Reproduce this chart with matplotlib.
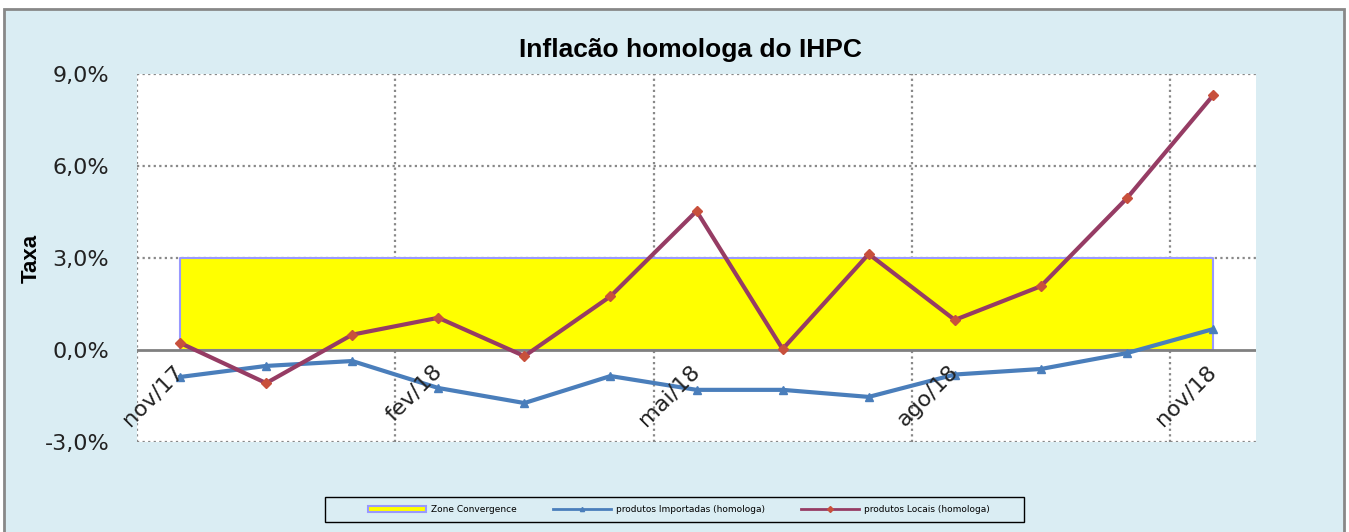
import matplotlib
matplotlib.use('Agg')
import matplotlib.pyplot as plt
from matplotlib.patches import Rectangle, Patch
from matplotlib.lines import Line2D
from matplotlib.ticker import FuncFormatter

months = ['nov/17', 'dez/17', 'jan/18', 'fev/18', 'mar/18', 'abr/18', 'mai/18',
          'jun/18', 'jul/18', 'ago/18', 'set/18', 'out/18', 'nov/18']
zone_conv = [3.0] * 13
importados = [-0.88, -0.52, -0.36, -1.24, -1.73, -0.85, -1.30, -1.30, -1.53, -0.80, -0.62, -0.10, 0.68]
locais = [0.23, -1.08, 0.50, 1.05, -0.20, 1.75, 4.53, 0.03, 3.13, 0.98, 2.08, 4.95, 8.30]
label_every = 3
yticks = [-3, 0, 3, 6, 9]

bg = '#DAEDF3'
blue = '#4A7EBB'
red_line = '#963C64'
red_mark = '#C8503C'

fig = plt.figure(figsize=(13.49, 5.32), dpi=100)
fig.patch.set_facecolor('white')
fig.patches.append(Rectangle((0.003, -0.1), 0.993, 1.083, transform=fig.transFigure,
                             facecolor=bg, edgecolor='#888888', linewidth=2, zorder=-5))

ax = fig.add_axes([0.1016, 0.1692, 0.8295, 0.6917])
ax.set_facecolor('white')
x = list(range(len(months)))

ax.fill_between(x, 0, zone_conv, facecolor='yellow', edgecolor='#9999FF', linewidth=1.5, zorder=2)
ax.axhline(0, color='#808080', linewidth=2, zorder=3)
ax.plot(x, importados, color=blue, linewidth=3, marker='^', markersize=6,
        markerfacecolor=blue, markeredgecolor=blue, zorder=4)
ax.plot(x, locais, color=red_line, linewidth=3, marker='D', markersize=5,
        markerfacecolor=red_mark, markeredgecolor=red_mark, zorder=5)

ax.set_xlim(-0.5, len(months) - 0.5)
ax.set_ylim(-3, 9)
for s in ax.spines.values():
    s.set_visible(False)

# grid lines
for v in yticks:
    if v != 0:
        ax.axhline(v, color='#888888', linestyle=(0, (1, 1.5)), linewidth=1.6, zorder=1)
for i in range(0, len(months), label_every):
    ax.axvline(i - 0.5, color='#888888', linestyle=(0, (1, 1.5)), linewidth=1.6, zorder=1)

ax.set_yticks(yticks)
ax.yaxis.set_major_formatter(FuncFormatter(lambda v, p: ('%.1f%%' % v).replace('.', ',')))
ax.tick_params(axis='y', length=0, pad=20, labelsize=16, colors='#222222')
ax.set_xticks([])

for i in range(0, len(months), label_every):
    ax.text(i - 0.08, -0.37, months[i], rotation=45, ha='right', va='top',
            rotation_mode='anchor', fontsize=16, color='#222222', zorder=6)

fig.text(0.512, 0.906, 'Inflacão homologa do IHPC', ha='center', va='center',
         fontsize=19, fontweight='bold', family='Liberation Sans')
fig.text(0.023, 0.515, 'Taxa', rotation=90, ha='center', va='center',
         fontsize=16, fontweight='bold', family='Liberation Sans')

handles = [Patch(facecolor='yellow', edgecolor='#9999FF', linewidth=1.5),
           Line2D([], [], color=blue, linewidth=2, marker='^', markersize=3),
           Line2D([], [], color=red_line, linewidth=2, marker='D', markersize=3,
                  markerfacecolor=red_mark, markeredgecolor=red_mark)]
labels = ['Zone Convergence', 'produtos Importadas (homologa)', 'produtos Locais (homologa)']
fig.legend(handles, labels, loc='center', ncol=3, bbox_to_anchor=(0.5033, 0.0423),
           fontsize=6.5, frameon=False, handlelength=6.4, handletextpad=0.55,
           columnspacing=4, borderpad=0)
fig.patches.append(Rectangle((325 / 1349, 1 - 522 / 532), 699 / 1349, 25 / 532,
                             transform=fig.transFigure, facecolor='none',
                             edgecolor='black', linewidth=1))

fig.savefig('out.png', dpi=100)
